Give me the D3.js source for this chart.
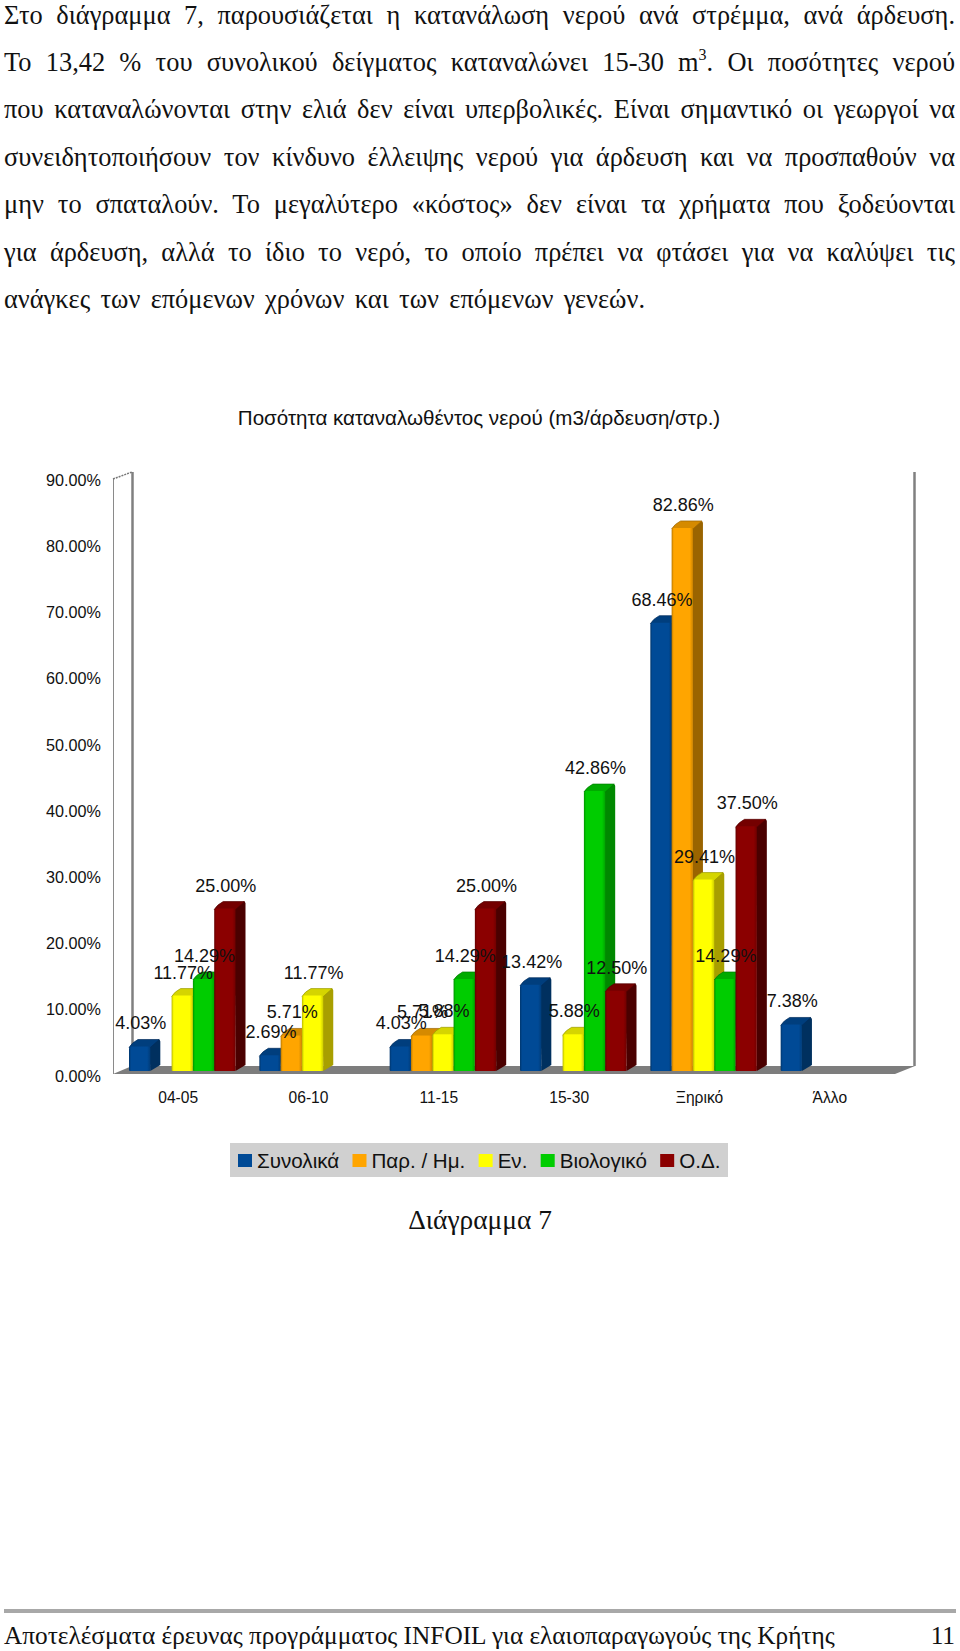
<!DOCTYPE html>
<html><head><meta charset="utf-8">
<script src="https://cdn.jsdelivr.net/npm/d3@7/dist/d3.min.js"></script>
<style>html,body{margin:0;padding:0;background:#fff}svg{display:block}</style>
</head><body><div id="c"></div>
<script>
const categories = ["04-05","06-10","11-15","15-30","Ξηρικό","Άλλο"];
const seriesNames = ["Συνολικά","Παρ. / Ημ.","Εν.","Βιολογικό","Ο.Δ."];
const total   = [4.03, 2.69, 4.03, 13.42, 68.46, 7.38];
const parHm   = [null, 5.71, 5.71, null, 82.86, null];
const en      = [11.77, 11.77, 5.88, 5.88, 29.41, null];
const bio     = [14.29, null, 14.29, 42.86, 14.29, null];
const od      = [25.00, null, 25.00, 12.50, 37.50, null];
const yTicks  = [0,10,20,30,40,50,60,70,80,90];
const colors  = ["#004a96","#ffa500","#ffff00","#00cc00","#8b0000"];
const sides   = ["#00305f","#9a6400","#a89f00","#008800","#4a0000"];
const bodyLines = [
 "Στο διάγραμμα 7, παρουσιάζεται η κατανάλωση νερού ανά στρέμμα, ανά άρδευση.",
 "Το 13,42 % του συνολικού δείγματος καταναλώνει 15-30 m^3. Οι ποσότητες νερού",
 "που καταναλώνονται στην ελιά δεν είναι υπερβολικές. Είναι σημαντικό οι γεωργοί να",
 "συνειδητοποιήσουν τον κίνδυνο έλλειψης νερού για άρδευση και να προσπαθούν να",
 "μην το σπαταλούν. Το μεγαλύτερο «κόστος» δεν είναι τα χρήματα που ξοδεύονται",
 "για άρδευση, αλλά το ίδιο το νερό, το οποίο πρέπει να φτάσει για να καλύψει τις",
 "ανάγκες των επόμενων χρόνων και των επόμενων γενεών."
];
const chartTitle = "Ποσότητα καταναλωθέντος νερού (m3/άρδευση/στρ.)";
const captionText = "Διάγραμμα 7";
const footerText = "Αποτελέσματα έρευνας προγράμματος INFOIL για ελαιοπαραγωγούς της Κρήτης";
const pageNumber = "11";
const seriesValues = [total, parHm, en, bio, od];

const W = 960, H = 1651;
const SANS = "'Liberation Sans', Arial, sans-serif", SERIF = "'Liberation Serif', 'Times New Roman', serif";
const INK = "#111";
const svg = d3.select("#c").append("svg").attr("width",W).attr("height",H).attr("viewBox",`0 0 ${W} ${H}`);
svg.append("rect").attr("width",W).attr("height",H).attr("fill","#fff");

// body text, justified by word spacing
const bodyG = svg.append("g").attr("font-family",SERIF).attr("font-size",26.4).attr("fill",INK);
bodyLines.forEach((line,i)=>{
  const t = bodyG.append("text").attr("x",4).attr("y",23.5+47.4*i);
  const parts = line.split("^3");
  t.append("tspan").text(parts[0]);
  if(parts.length>1){
    t.append("tspan").attr("dy",-11).attr("font-size",16).text("3");
    t.append("tspan").attr("dy",11).text(parts[1]);
  }
  const len = t.node().getComputedTextLength();
  const n = line.split(" ").length-1;
  const target = i<bodyLines.length-1 ? 951 : 641;
  t.style("word-spacing",((target-len)/n)+"px");
});

// chart
const x0 = 113, x1 = 895, depthX = 19;
const xCat = d3.scaleBand().domain(categories).range([x0,x1]);
const xSer = d3.scaleBand().domain(seriesNames).range([16,122.5]);
const yBar = d3.scaleLinear().domain([0,90]).range([1073,481]);
const yLab = d3.scaleLinear().domain([0,90]).range([1076,480]);

svg.append("text").attr("x",479).attr("y",425).attr("text-anchor","middle")
  .attr("font-family",SANS).attr("font-size",20.6).attr("fill",INK).text(chartTitle);

const walls = svg.append("g");
const wallTop = 472, floorBack = 1066, floorFront = 1074, wallFront = 479;
walls.append("path").attr("d",`M${x0},${floorFront}L${x0+depthX},${floorBack}L${x1+20},${floorBack}L${x1},${floorFront}Z`).attr("fill","#7d7d7d");
walls.append("line").attr("x1",x0+.5).attr("x2",x0+.5).attr("y1",wallFront).attr("y2",floorFront).attr("stroke","#8a8a8a").attr("stroke-width",1);
walls.append("line").attr("x1",x0+depthX+.5).attr("x2",x0+depthX+.5).attr("y1",wallTop).attr("y2",floorBack).attr("stroke","#808080").attr("stroke-width",2.5);
walls.append("line").attr("x1",x1+19.5).attr("x2",x1+19.5).attr("y1",wallTop).attr("y2",floorBack).attr("stroke","#808080").attr("stroke-width",2.5);
walls.append("line").attr("x1",x0).attr("x2",x0+depthX).attr("y1",wallFront).attr("y2",wallTop).attr("stroke","#777").attr("stroke-width",1.5).attr("stroke-dasharray","2 1");

// bar gradients
const defs = svg.append("defs");
seriesNames.forEach((s,i)=>{
  const g = defs.append("linearGradient").attr("id","g"+i);
  const c = d3.color(colors[i]);
  [[0,c.darker(.9)],[.1,c],[.85,c],[1,c.darker(.6)]].forEach(([o,col])=>
    g.append("stop").attr("offset",o).attr("stop-color",col));
});

const dx = 10, dy = 7, barW = xSer.bandwidth();
const bars = [];
categories.forEach((c,ci)=>seriesNames.forEach((s,si)=>{
  const v = seriesValues[si][ci];
  if(v!==null) bars.push({c,s,si,v});
}));
const barG = svg.append("g");
bars.forEach(d=>{
  const x = xCat(d.c)+xSer(d.s), y = yBar(d.v), y0 = yBar(0)-2;
  const g = barG.append("g");
  g.append("path").attr("d",`M${x+barW-1},${y}L${x+barW+dx-2},${y-dy}Q${x+barW+dx},${y-dy} ${x+barW+dx},${y-dy+2}L${x+barW+dx},${y0-dy+1}L${x+barW},${y0}Z`).attr("fill",sides[d.si]);
  g.append("path").attr("d",`M${x},${y+1}Q${x+3},${y-dy+3} ${x+dx-1},${y-dy}L${x+barW+dx-1},${y-dy}L${x+barW},${y+1}Z`)
    .attr("fill",d3.color(colors[d.si]).darker(.5)).attr("stroke",d3.color(colors[d.si]).darker(1.4)).attr("stroke-width",.7);
  g.append("path").attr("d",`M${x},${y+2}Q${x},${y} ${x+2},${y}L${x+barW-1},${y}Q${x+barW},${y} ${x+barW},${y+2}L${x+barW},${y0-1}Q${x+barW},${y0} ${x+barW-1},${y0}L${x+1},${y0}Q${x},${y0} ${x},${y0-1}Z`)
    .attr("fill",`url(#g${d.si})`);
});

// axes
const axisY = d3.axisLeft(yLab).tickValues(yTicks).tickSize(0).tickPadding(0).tickFormat(v=>d3.format(".2f")(v)+"%");
const ay = svg.append("g").attr("transform","translate(101,0)").call(axisY);
ay.select(".domain").remove();
ay.selectAll("text").attr("font-family",SANS).attr("font-size",16.2).attr("fill",INK);
const axisX = d3.axisBottom(xCat).tickSize(0).tickPadding(0);
const ax = svg.append("g").attr("transform","translate(0,1091.5)").call(axisX);
ax.select(".domain").remove();
ax.selectAll("text").attr("font-family",SANS).attr("font-size",15.6).attr("fill",INK).attr("dy",".71em");

// value labels on top of all bars
svg.append("g").selectAll("text").data(bars).join("text")
  .attr("x",d=>xCat(d.c)+xSer(d.s)+barW/2+1).attr("y",d=>yBar(d.v)-17)
  .attr("text-anchor","middle").attr("font-family",SANS).attr("font-size",18).attr("fill",INK)
  .text(d=>d3.format(".2f")(d.v)+"%");

// legend
const lg = svg.append("g");
lg.append("rect").attr("x",230).attr("y",1143).attr("width",498).attr("height",34).attr("fill","#d0d0d0");
let lx = 238;
seriesNames.forEach((s,i)=>{
  lg.append("rect").attr("x",lx).attr("y",1154).attr("width",14).attr("height",13).attr("fill",colors[i]);
  const t = lg.append("text").attr("x",lx+19).attr("y",1168).attr("font-family",SANS).attr("font-size",20.6).attr("fill",INK).text(s);
  lx += 19 + t.node().getComputedTextLength() + 13.3;
});

// caption and footer
svg.append("text").attr("x",480).attr("y",1229).attr("text-anchor","middle").attr("font-family",SERIF).attr("font-size",27.4).attr("fill",INK).text(captionText);
svg.append("rect").attr("x",4).attr("y",1609).attr("width",952).attr("height",4).attr("fill","#a8a8a8");
svg.append("text").attr("x",4).attr("y",1644).attr("font-family",SERIF).attr("font-size",25.3).attr("fill",INK).text(footerText);
svg.append("text").attr("x",955).attr("y",1644).attr("text-anchor","end").attr("font-family",SERIF).attr("font-size",25.3).attr("fill",INK).text(pageNumber);
</script></body></html>
